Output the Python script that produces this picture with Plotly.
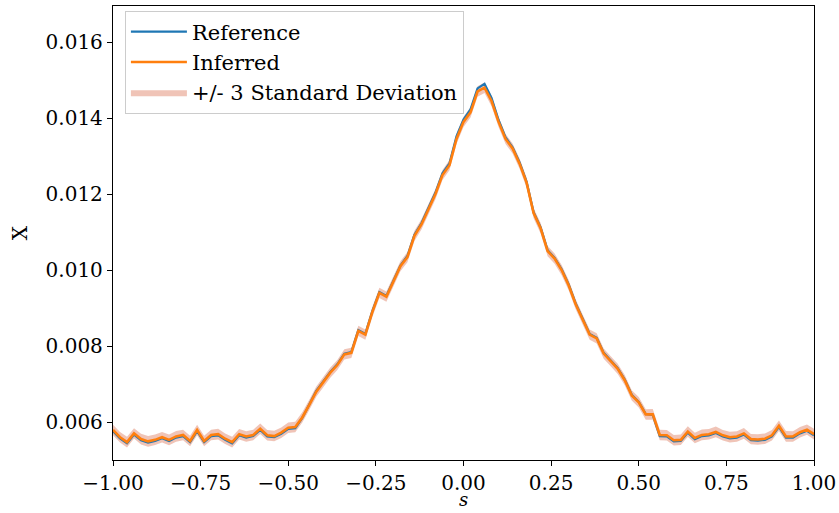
import plotly.graph_objects as go

# s grid (101 samples on [-1, 1])
s_values = [round(-1 + 0.02 * i, 2) for i in range(101)]

inferred = [
    0.00579, 0.00560, 0.00547, 0.00570, 0.00555, 0.00549, 0.00553, 0.00560, 0.00553, 0.00562,
    0.00566, 0.00550, 0.00579, 0.00550, 0.00566, 0.00568, 0.00556, 0.00547, 0.00568, 0.00562,
    0.00566, 0.00582, 0.00565, 0.00563, 0.00572, 0.00585, 0.00587, 0.00612, 0.00645, 0.00680,
    0.00705, 0.00730, 0.00750, 0.00778, 0.00782, 0.00840, 0.00830, 0.00890, 0.00940, 0.00930,
    0.00970, 0.01010, 0.01034, 0.01090, 0.01120, 0.01160, 0.01200, 0.01250, 0.01276, 0.01345,
    0.01390, 0.01415, 0.01470, 0.01480, 0.01445, 0.01390, 0.01345, 0.01320, 0.01280, 0.01230,
    0.01150, 0.01110, 0.01050, 0.01030, 0.01000, 0.00960, 0.00910, 0.00870, 0.00830, 0.00820,
    0.00780, 0.00760, 0.00740, 0.00710, 0.00670, 0.00652, 0.00620, 0.00620, 0.00566, 0.00565,
    0.00552, 0.00553, 0.00575, 0.00558, 0.00566, 0.00568, 0.00574, 0.00565, 0.00560, 0.00562,
    0.00570, 0.00555, 0.00554, 0.00556, 0.00565, 0.00590, 0.00562, 0.00562, 0.00573, 0.00580,
    0.00568,
]

reference = [
    0.00576, 0.00557, 0.00544, 0.00567, 0.00552, 0.00546, 0.00550, 0.00557, 0.00550, 0.00559,
    0.00563, 0.00547, 0.00576, 0.00547, 0.00563, 0.00565, 0.00553, 0.00544, 0.00565, 0.00559,
    0.00563, 0.00579, 0.00562, 0.00560, 0.00569, 0.00582, 0.00584, 0.00611, 0.00646, 0.00682,
    0.00707, 0.00732, 0.00752, 0.00780, 0.00784, 0.00842, 0.00832, 0.00892, 0.00942, 0.00932,
    0.00972, 0.01012, 0.01037, 0.01093, 0.01123, 0.01163, 0.01204, 0.01255, 0.01281, 0.01352,
    0.01396, 0.01423, 0.01478, 0.01490, 0.01453, 0.01395, 0.01349, 0.01323, 0.01283, 0.01232,
    0.01152, 0.01112, 0.01052, 0.01032, 0.01002, 0.00962, 0.00912, 0.00872, 0.00832, 0.00822,
    0.00782, 0.00762, 0.00742, 0.00712, 0.00672, 0.00653, 0.00621, 0.00619, 0.00563, 0.00562,
    0.00549, 0.00550, 0.00572, 0.00555, 0.00563, 0.00565, 0.00571, 0.00562, 0.00557, 0.00559,
    0.00567, 0.00552, 0.00551, 0.00553, 0.00562, 0.00587, 0.00559, 0.00559, 0.00570, 0.00577,
    0.00565,
]

# 3-sigma half width of the uncertainty band
three_sigma = [
    0.000140, 0.000138, 0.000141, 0.000137, 0.000140, 0.000142, 0.000138, 0.000137, 0.000140, 0.000141,
    0.000138, 0.000140, 0.000137, 0.000141, 0.000138, 0.000140, 0.000137, 0.000141, 0.000138, 0.000140,
    0.000137, 0.000138, 0.000140, 0.000137, 0.000138, 0.000140, 0.000137, 0.000136, 0.000135, 0.000134,
    0.000134, 0.000133, 0.000134, 0.000135, 0.000134, 0.000133, 0.000134, 0.000133, 0.000134, 0.000135,
    0.000134, 0.000133, 0.000134, 0.000133, 0.000134, 0.000135, 0.000134, 0.000133, 0.000134, 0.000135,
    0.000136, 0.000135, 0.000136, 0.000137, 0.000136, 0.000135, 0.000134, 0.000133, 0.000134, 0.000133,
    0.000134, 0.000135, 0.000134, 0.000133, 0.000134, 0.000135, 0.000134, 0.000133, 0.000134, 0.000135,
    0.000134, 0.000133, 0.000134, 0.000135, 0.000136, 0.000137, 0.000138, 0.000140, 0.000138, 0.000140,
    0.000141, 0.000138, 0.000140, 0.000137, 0.000141, 0.000138, 0.000140, 0.000137, 0.000141, 0.000138,
    0.000140, 0.000137, 0.000141, 0.000138, 0.000140, 0.000137, 0.000141, 0.000138, 0.000140, 0.000137,
    0.000140,
]

x_tick_vals = [-1.0, -0.75, -0.5, -0.25, 0.0, 0.25, 0.5, 0.75, 1.0]
x_tick_text = ["\u22121.00", "\u22120.75", "\u22120.50", "\u22120.25", "0.00", "0.25", "0.50", "0.75", "1.00"]
y_tick_vals = [0.006, 0.008, 0.010, 0.012, 0.014, 0.016]
y_tick_text = ["0.006", "0.008", "0.010", "0.012", "0.014", "0.016"]

upper = [m + d for m, d in zip(inferred, three_sigma)]
lower = [m - d for m, d in zip(inferred, three_sigma)]

FONT = "DejaVu Serif"

fig = go.Figure()
fig.add_trace(go.Scatter(x=s_values, y=lower, mode="lines", line=dict(width=0),
                         showlegend=False, hoverinfo="skip", legendgroup="c"))
fig.add_trace(go.Scatter(x=s_values, y=upper, mode="lines", line=dict(width=0),
                         fill="tonexty", fillcolor="rgba(222,125,95,0.45)",
                         name="+/- 3 Standard Deviation", legendrank=3, legendgroup="c"))
fig.add_trace(go.Scatter(x=s_values, y=reference, mode="lines",
                         line=dict(color="#1f77b4", width=2.2), name="Reference",
                         legendrank=1, legendgroup="a"))
fig.add_trace(go.Scatter(x=s_values, y=inferred, mode="lines",
                         line=dict(color="#ff7f0e", width=2.6), name="Inferred",
                         legendrank=2, legendgroup="b"))

axis_common = dict(showline=True, linecolor="black", linewidth=1.3, mirror=True,
                   ticks="outside", ticklen=5, tickwidth=1.1, tickcolor="black",
                   showgrid=False, zeroline=False, automargin=False,
                   tickfont=dict(family=FONT, size=20, color="black"))

fig.update_xaxes(range=[-1, 1], tickvals=x_tick_vals, ticktext=x_tick_text, **axis_common)
fig.update_yaxes(range=[0.00500, 0.01695], tickvals=y_tick_vals, ticktext=y_tick_text,
                 title=dict(text="X", font=dict(family=FONT, size=20, color="black"), standoff=12),
                 **axis_common)

fig.add_annotation(text="<i>s</i>", xref="paper", yref="paper", x=0.5, y=-0.1135,
                   xanchor="center", yanchor="bottom", showarrow=False,
                   font=dict(family=FONT, size=18, color="black"))

fig.update_layout(
    width=839, height=513,
    margin=dict(l=113, r=25, t=6, b=53),
    paper_bgcolor="white", plot_bgcolor="white",
    font=dict(family=FONT, color="black"),
    legend=dict(x=0.017, y=0.99, xanchor="left", yanchor="top",
                bgcolor="rgba(255,255,255,0.85)", bordercolor="#cccccc", borderwidth=1,
                font=dict(family=FONT, size=21, color="black"), traceorder="grouped",
                tracegroupgap=0, itemwidth=56),
)

fig.write_html("out.html")
